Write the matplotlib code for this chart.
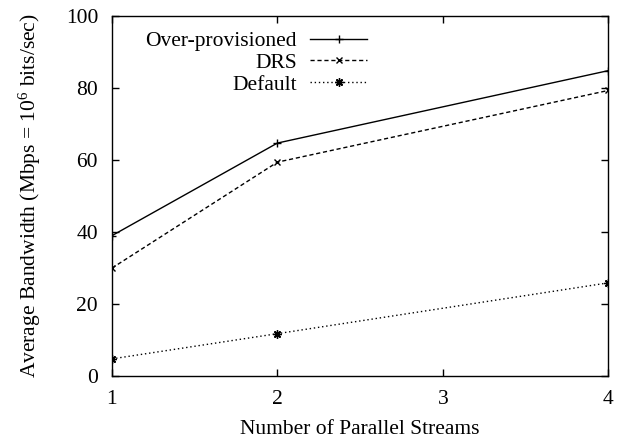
import matplotlib
matplotlib.use("Agg")
import matplotlib.pyplot as plt

plt.rcParams["font.family"] = ["Liberation Serif", "DejaVu Serif"]
plt.rcParams["mathtext.fontset"] = "custom"
plt.rcParams["mathtext.rm"] = "Liberation Serif"
plt.rcParams["font.size"] = 15.5

# parallel streams vs. average bandwidth (Mbps)
streams = [1, 2, 4]
over_provisioned = [39.0, 64.7, 84.8]
drs = [30.0, 59.4, 79.3]
default = [4.8, 11.8, 25.9]

fig = plt.figure(figsize=(6.29, 4.41), dpi=100)
ax = fig.add_axes([0.178, 0.147, 0.789, 0.817])

ax.plot(streams, over_provisioned, color="black", lw=1.0, ls="-",
        marker="+", ms=6, mew=1.0, label="Over-provisioned")
ax.plot(streams, drs, color="black", lw=1.0, ls=(0, (3, 2)),
        marker="x", ms=5, mew=1.0, label="DRS")
ax.plot(streams, default, color="black", lw=1.0, ls=(0, (1, 2)),
        marker=(8, 2, 0), ms=6, mew=1.0, label="Default")

ax.set_xlim(1, 4)
ax.set_ylim(0, 100)
ax.set_xticks([1, 2, 3, 4])
ax.set_yticks(range(0, 101, 20))
ax.tick_params(direction="in", length=5, width=1, top=True, right=True,
               labelsize=15.5)
ax.tick_params(axis="x", pad=10)
ax.tick_params(axis="y", pad=10)
for s in ax.spines.values():
    s.set_linewidth(1.0)

ax.set_xlabel("Number of Parallel Streams", labelpad=8)
ax.set_ylabel(r"Average Bandwidth (Mbps = $\mathregular{10^6}$ bits/sec)",
              labelpad=16)

ax.legend(loc="upper right", bbox_to_anchor=(0.514, 0.957), frameon=False,
          markerfirst=False, handlelength=2.65, handletextpad=0.6,
          labelspacing=0.07, borderpad=0, borderaxespad=0, fontsize=15.5)

fig.savefig("out.png", dpi=100)
